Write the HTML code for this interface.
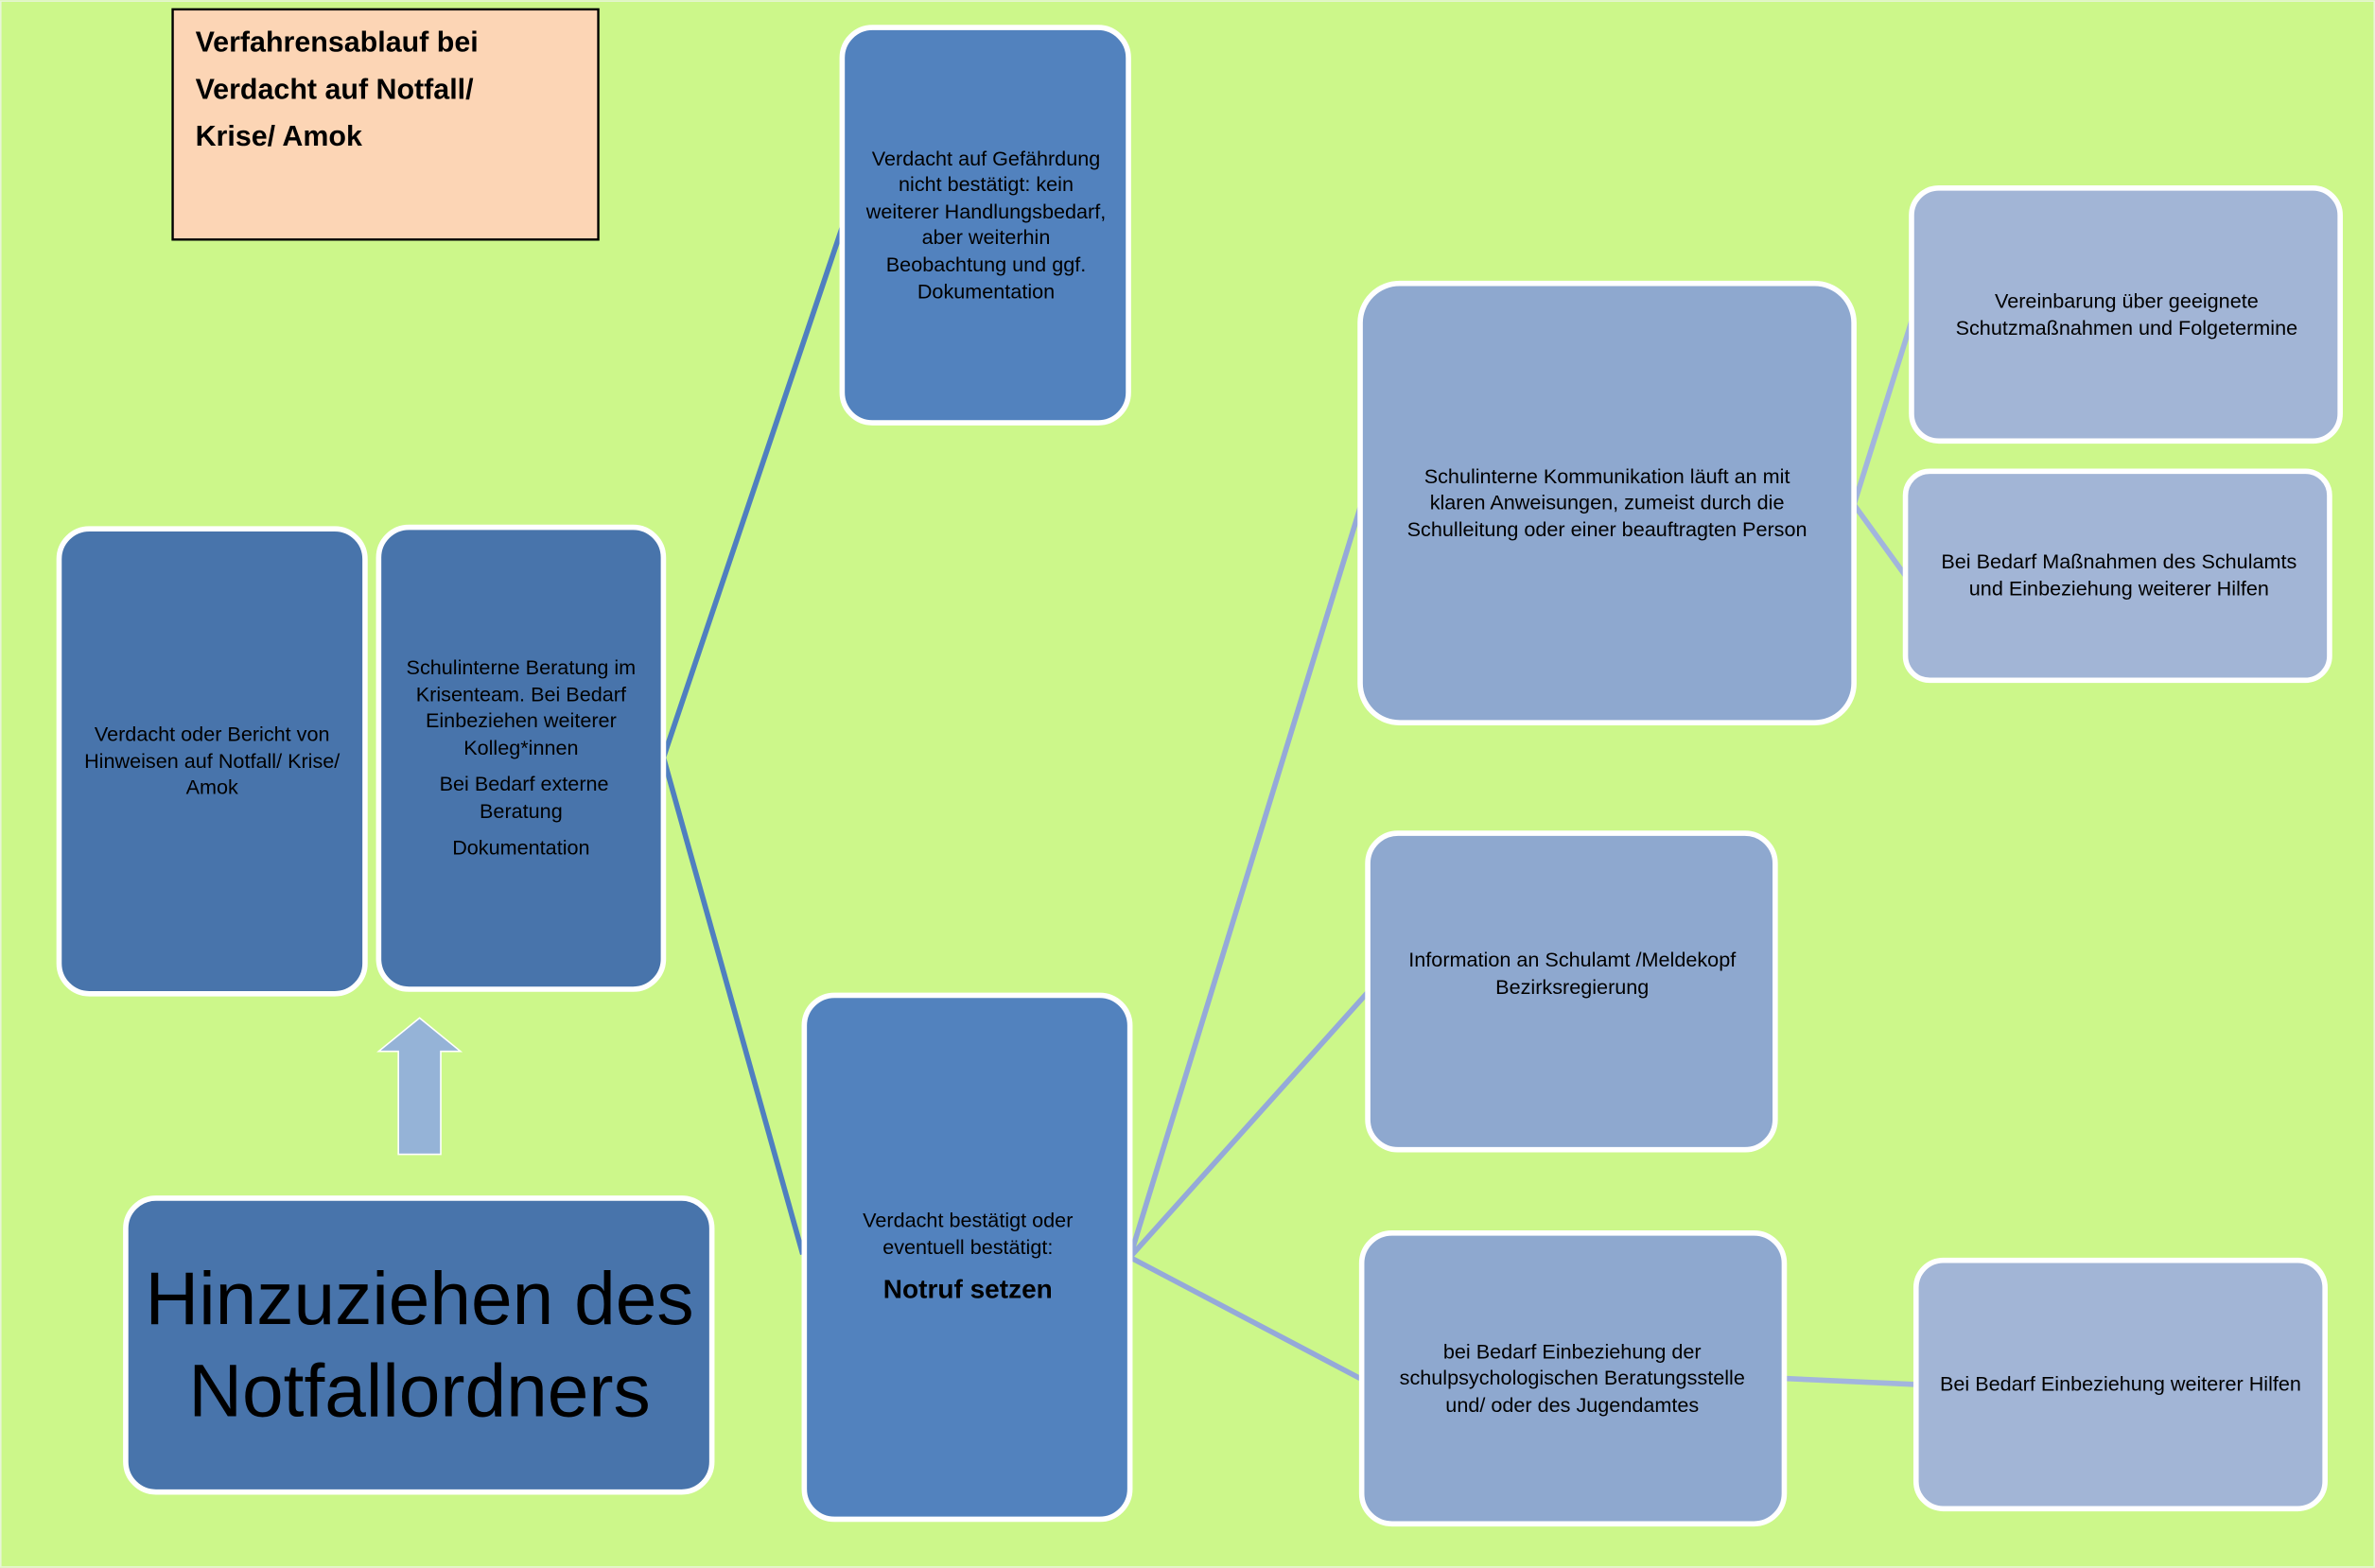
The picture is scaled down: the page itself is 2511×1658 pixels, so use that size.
<!DOCTYPE html>
<html><head><meta charset="utf-8"><style>
html,body{margin:0;padding:0;background:#ccf78a}
svg{display:block}
text{font-family:"Liberation Sans",sans-serif;fill:#000}
</style></head><body>
<svg width="2511" height="1658" viewBox="0 0 1568 1035" xmlns="http://www.w3.org/2000/svg">
<rect x="0" y="0" width="1568" height="1035" fill="#ccf78a"/>
<rect x="0.5" y="0.5" width="1567" height="1034" fill="none" stroke="#e8f5d8" stroke-width="1"/>
<g stroke="#4f7fc0" stroke-width="3.5" fill="none">
<line x1="438" y1="500" x2="556" y2="150"/>
<line x1="438" y1="500" x2="530" y2="828"/>
</g>
<g stroke="#95a9d9" stroke-width="3.5" fill="none">
<line x1="746" y1="830" x2="898" y2="335"/>
<line x1="746" y1="830" x2="903" y2="655"/>
<line x1="746" y1="830" x2="898" y2="910"/>
</g>
<g stroke="#a2b5dd" stroke-width="3.5" fill="none">
<line x1="1224" y1="333" x2="1262" y2="212"/>
<line x1="1224" y1="333" x2="1258" y2="380"/>
<line x1="1178" y1="910" x2="1265" y2="914"/>
</g>
<rect x="114" y="6" width="281" height="152" fill="#fcd5b5" stroke="#000" stroke-width="1.5"/>
<g font-weight="bold" font-size="19">
<text x="129" y="34">Verfahrensablauf bei</text>
<text x="129" y="65">Verdacht auf Notfall/</text>
<text x="129" y="96">Krise/ Amok</text>
</g>
<g stroke="#fff" stroke-width="3.5">
<rect x="39" y="349" width="202" height="307" rx="20" fill="#4874ab"/>
<rect x="250" y="348" width="188" height="305" rx="20" fill="#4874ab"/>
<rect x="556" y="18" width="189" height="261" rx="20" fill="#5282be"/>
<rect x="531" y="657" width="215" height="346" rx="20" fill="#5282be"/>
<rect x="83" y="791" width="387" height="194" rx="20" fill="#4874ab"/>
<rect x="898" y="187" width="326" height="290" rx="26" fill="#8ea8cf"/>
<rect x="903" y="550" width="269" height="209" rx="20" fill="#8ea8cf"/>
<rect x="899" y="814" width="279" height="192" rx="20" fill="#8ea8cf"/>
<rect x="1262" y="124" width="283" height="167" rx="18" fill="#a2b5d6"/>
<rect x="1258" y="311" width="280" height="138" rx="16" fill="#a2b5d6"/>
<rect x="1265" y="832" width="270" height="164" rx="18" fill="#a2b5d6"/>
</g>
<polygon points="277,672 304,694 291,694 291,762 263,762 263,694 250,694" fill="#95b3d7" stroke="#fff" stroke-width="1"/>
<g font-size="13.5" text-anchor="middle">
<text x="140" y="489">Verdacht oder Bericht von</text>
<text x="140" y="507">Hinweisen auf Notfall/ Krise/</text>
<text x="140" y="524">Amok</text>
<text x="344" y="445">Schulinterne Beratung im</text>
<text x="344" y="463">Krisenteam. Bei Bedarf</text>
<text x="344" y="480">Einbeziehen weiterer</text>
<text x="344" y="498">Kolleg*innen</text>
<text x="346" y="522">Bei Bedarf externe</text>
<text x="344" y="540">Beratung</text>
<text x="344" y="564">Dokumentation</text>
<text x="651" y="109">Verdacht auf Gefährdung</text>
<text x="651" y="126">nicht bestätigt:  kein</text>
<text x="651" y="144">weiterer Handlungsbedarf,</text>
<text x="651" y="161">aber weiterhin</text>
<text x="651" y="179">Beobachtung und ggf.</text>
<text x="651" y="197">Dokumentation</text>
<text x="639" y="810">Verdacht bestätigt oder</text>
<text x="639" y="828">eventuell bestätigt:</text>
<text x="639" y="857" font-size="17.5" font-weight="bold">Notruf setzen</text>
<text x="1061" y="319">Schulinterne Kommunikation läuft an mit</text>
<text x="1061" y="336">klaren Anweisungen, zumeist durch die</text>
<text x="1061" y="354">Schulleitung oder einer beauftragten Person</text>
<text x="1038" y="638">Information an Schulamt /Meldekopf</text>
<text x="1038" y="656">Bezirksregierung</text>
<text x="1038" y="897">bei Bedarf Einbeziehung der</text>
<text x="1038" y="914">schulpsychologischen Beratungsstelle</text>
<text x="1038" y="932">und/ oder des Jugendamtes</text>
<text x="1404" y="203">Vereinbarung über geeignete</text>
<text x="1404" y="221">Schutzmaßnahmen und Folgetermine</text>
<text x="1399" y="375">Bei Bedarf Maßnahmen des Schulamts</text>
<text x="1399" y="393">und Einbeziehung weiterer Hilfen</text>
<text x="1400" y="918">Bei Bedarf Einbeziehung weiterer Hilfen</text>
</g>
<g font-size="49" text-anchor="middle">
<text x="277" y="874">Hinzuziehen des</text>
<text x="277" y="935">Notfallordners</text>
</g>
</svg>
</body></html>
